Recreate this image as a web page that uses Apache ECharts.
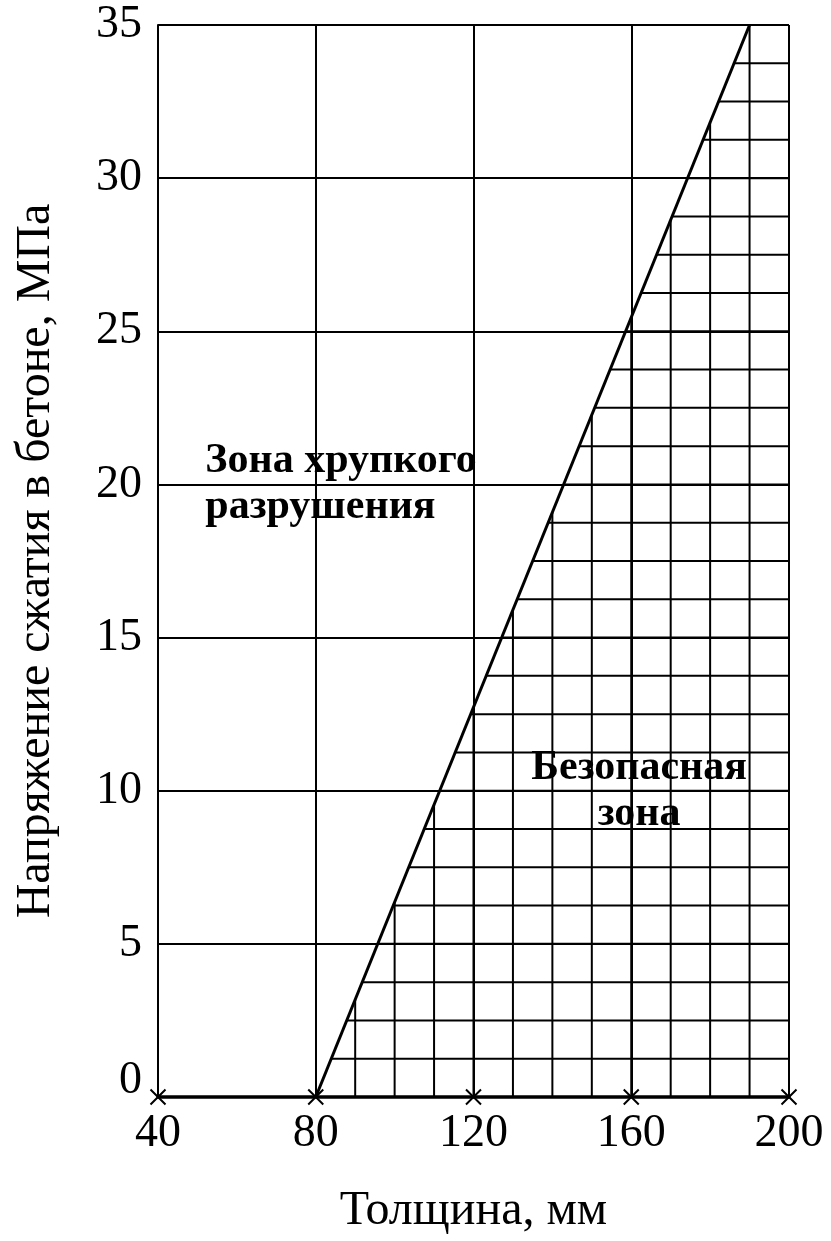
<!DOCTYPE html>
<html>
<head>
<meta charset="utf-8">
<script src="https://cdn.jsdelivr.net/npm/echarts@6/dist/echarts.min.js"></script>
<style>
html,body{margin:0;padding:0;background:#fff;}
#chart{width:831px;height:1241px;}
</style>
</head>
<body>
<div id="chart"></div>
<script>
// ---- data ----
const xTicks = [40, 80, 120, 160, 200];
const yTicks = [0, 5, 10, 15, 20, 25, 30, 35];
const boundaryLine = [[80, 0], [190, 35]];
const hatchX = [90, 100, 110, 120, 130, 140, 150, 160, 170, 180, 190];
const hatchY = [1.25, 2.5, 3.75, 5, 6.25, 7.5, 8.75, 10, 11.25, 12.5, 13.75, 15, 16.25, 17.5, 18.75, 20,
                21.25, 22.5, 23.75, 25, 26.25, 27.5, 28.75, 30, 31.25, 32.5, 33.75];
const zoneLabels = [
  {text: 'Зона хрупкого\nразрушения', x: 52, y: 20, align: 'left'},
  {text: 'Безопасная\nзона', x: 162, y: 10, align: 'center'}
];
const xName = 'Толщина, мм';
const yName = 'Напряжение сжатия в бетоне, МПа';

// ---- derived from the boundary line ----
const [b0, b1] = boundaryLine;
const slope = (b1[1] - b0[1]) / (b1[0] - b0[0]);
const yAtX = x => b0[1] + (x - b0[0]) * slope;
const xAtY = y => b0[0] + (y - b0[1]) / slope;
const xMax = xTicks[xTicks.length - 1];
const yMin = yTicks[0];

const hatchSegments = [];
hatchX.forEach(x => hatchSegments.push([x, yMin, x, yAtX(x)]));
hatchY.forEach(y => hatchSegments.push([xAtY(y), y, xMax, y]));

const font = 'Liberation Serif, Times New Roman, serif';

const chart = echarts.init(document.getElementById('chart'), null, {renderer: 'canvas'});
chart.setOption({
  animation: false,
  backgroundColor: '#fff',
  grid: {left: 158, right: 42, top: 25, bottom: 144, containLabel: false},
  xAxis: {
    type: 'value', min: 40, max: 200, interval: 40,
    name: xName, nameLocation: 'middle', nameGap: 90,
    nameTextStyle: {fontFamily: font, fontSize: 48, color: '#000'},
    axisLine: {show: true, onZero: false, lineStyle: {color: '#000', width: 3.5}},
    axisTick: {show: false},
    axisLabel: {fontFamily: font, fontSize: 46, color: '#000', margin: 14},
    splitLine: {show: true, lineStyle: {color: '#000', width: 2}}
  },
  yAxis: {
    type: 'value', min: 0, max: 35, interval: 5,
    name: yName, nameLocation: 'middle', nameGap: 98, nameRotate: 90,
    nameTextStyle: {fontFamily: font, fontSize: 48, color: '#000'},
    axisLine: {show: true, lineStyle: {color: '#000', width: 2}},
    axisTick: {show: false},
    axisLabel: {
      fontFamily: font, fontSize: 46, color: '#000', margin: 16,
      formatter: v => v === 0 ? '{z|0}' : String(v),
      rich: {z: {fontFamily: font, fontSize: 46, color: '#000', padding: [0, 0, 32, 0]}}
    },
    splitLine: {show: true, lineStyle: {color: '#000', width: 2}}
  },
  series: [
    {
      type: 'custom',
      renderItem: function (params, api) {
        const p1 = api.coord([api.value(0), api.value(1)]);
        const p2 = api.coord([api.value(2), api.value(3)]);
        return {type: 'line', shape: {x1: p1[0], y1: p1[1], x2: p2[0], y2: p2[1]},
                style: {stroke: '#000', lineWidth: 2}};
      },
      encode: {x: [0, 2], y: [1, 3]},
      data: hatchSegments,
      silent: true
    },
    {
      type: 'line',
      data: boundaryLine,
      symbol: 'none',
      lineStyle: {color: '#000', width: 3},
      silent: true
    },
    {
      type: 'scatter',
      data: xTicks.map(x => [x, yMin]),
      symbol: 'path://M0,0L10,10M0,10L10,0',
      symbolSize: 15,
      itemStyle: {color: 'none', borderColor: '#000', borderWidth: 2, opacity: 1},
      silent: true,
      z: 5
    },
    {
      type: 'scatter',
      data: zoneLabels.map(d => ({value: [d.x, d.y], label: {align: d.align}, name: d.text})),
      symbolSize: 0,
      itemStyle: {opacity: 1},
      label: {
        show: true, position: [0, 0], verticalAlign: 'middle',
        formatter: p => p.name,
        fontFamily: font, fontWeight: 'bold', fontSize: 42, lineHeight: 46, color: '#000'
      },
      silent: true,
      z: 6
    }
  ]
});
</script>
</body>
</html>
